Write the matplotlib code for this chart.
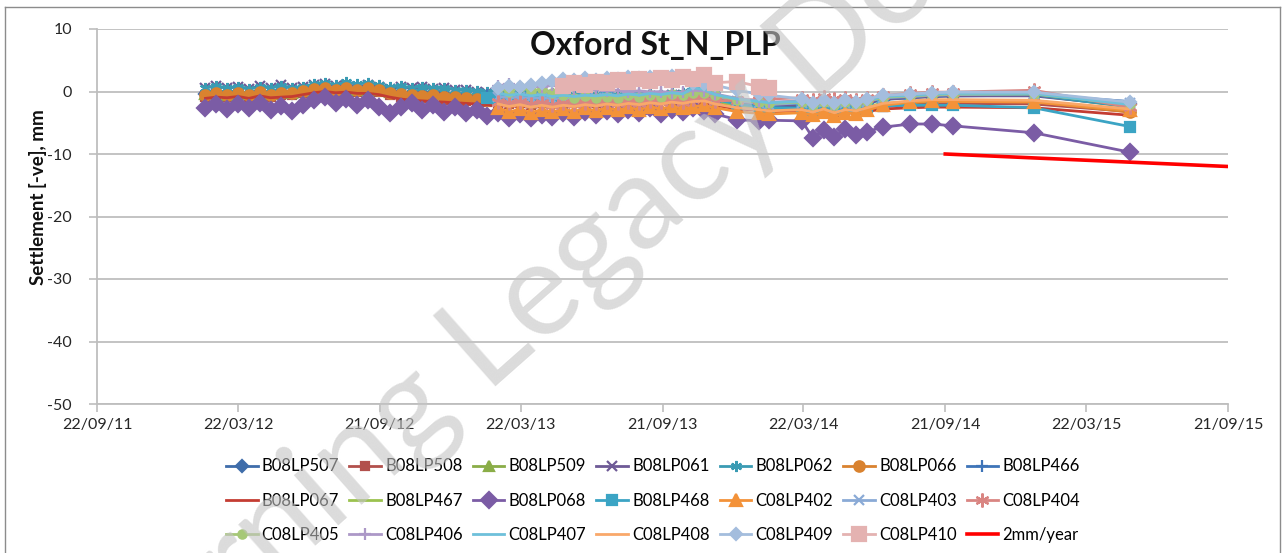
import numpy as np
import pandas as pd
import matplotlib
matplotlib.use('Agg')
import matplotlib.pyplot as plt
import matplotlib.dates as mdates
from matplotlib.lines import Line2D

plt.rcParams['font.family'] = ['Lato', 'DejaVu Sans']
plt.rcParams['axes.unicode_minus'] = False

# survey dates (B08 points from Feb 2012, newer points join in Feb 2013)
dates = pd.to_datetime([
    "2012-02-09", "2012-02-23", "2012-03-08", "2012-03-22", "2012-04-05", "2012-04-19", "2012-05-03", "2012-05-17", "2012-05-31", "2012-06-14",
    "2012-06-28", "2012-07-12", "2012-07-26", "2012-08-09", "2012-08-23", "2012-09-06", "2012-09-20", "2012-10-04", "2012-10-18", "2012-11-01",
    "2012-11-15", "2012-11-29", "2012-12-13", "2012-12-27", "2013-01-10", "2013-01-24", "2013-02-07", "2013-02-21", "2013-03-07", "2013-03-21",
    "2013-04-04", "2013-04-18", "2013-05-02", "2013-05-16", "2013-05-30", "2013-06-13", "2013-06-27", "2013-07-11", "2013-07-25", "2013-08-08",
    "2013-08-22", "2013-09-05", "2013-09-19", "2013-10-03", "2013-10-17", "2013-10-31", "2013-11-14", "2013-11-28", "2013-12-26", "2014-01-23",
    "2014-02-06", "2014-03-20", "2014-04-03", "2014-04-17", "2014-05-01", "2014-05-15", "2014-05-29", "2014-06-12", "2014-07-03", "2014-08-07",
    "2014-09-04", "2014-10-01", "2015-01-13", "2015-05-17"])
dates_4xx = dates[26:]
dates_c = dates[27:]
dates_410 = dates[33:51]

# settlement readings, mm
b08lp507 = [-0.4, -0.1, -0.5, -0.2, -0.4, 0.0, -0.4, -0.1, -0.3, 0.1,
            0.4, 0.6, 0.3, 0.6, 0.3, 0.5, 0.2, -0.1, -0.3, -0.4,
            -0.5, -0.3, -0.6, -0.5, -0.8, -0.9, -1.0, -1.1, -1.3, -1.2,
            -1.5, -1.3, -1.4, -1.2, -1.3, -1.1, -1.2, -1.0, -1.1, -0.9,
            -1.0, -0.7, -0.9, -0.8, -0.9, -0.6, -0.8, -1.2, -1.9, -2.2,
            -2.4, -2.3, -2.5, -2.2, -2.4, -2.1, -2.2, -1.9, -1.3, -1.0,
            -0.8, -0.7, -0.6, -2.0]
b08lp508 = [-0.8, -0.6, -0.9, -0.6, -0.8, -0.5, -0.8, -0.6, -0.6, -0.3,
            0.1, 0.3, 0.0, 0.3, 0.0, 0.2, -0.1, -0.5, -0.8, -1.0,
            -1.1, -1.0, -1.3, -1.3, -1.5, -1.6, -1.7, -1.8, -2.0, -1.9,
            -2.1, -1.9, -2.0, -1.8, -1.9, -1.7, -1.8, -1.6, -1.7, -1.5,
            -1.5, -1.3, -1.4, -1.4, -1.5, -1.3, -1.4, -1.8, -2.5, -2.8,
            -3.0, -3.1, -3.3, -3.1, -3.2, -3.0, -3.0, -2.8, -2.4, -2.1,
            -2.0, -1.9, -2.0, -3.2]
b08lp509 = [-0.4, -0.1, -0.5, -0.2, -0.4, 0.0, -0.4, -0.1, -0.2, 0.1,
            0.4, 0.6, 0.3, 0.6, 0.3, 0.5, 0.2, -0.1, -0.2, -0.3,
            -0.3, -0.2, -0.4, -0.3, -0.5, -0.6, -0.7, -0.8, -1.0, -0.9,
            -1.1, -1.0, -1.1, -0.9, -1.0, -0.8, -0.9, -0.7, -0.8, -0.6,
            -0.7, -0.5, -0.6, -0.5, -0.6, -0.3, -0.5, -0.9, -1.7, -2.0,
            -2.1, -2.0, -2.2, -1.9, -2.1, -1.8, -1.9, -1.6, -1.1, -0.9,
            -0.7, -0.6, -0.6, -2.4]
b08lp061 = [0.6, 0.9, 0.5, 0.8, 0.4, 0.9, 0.6, 1.0, 0.5, 0.8,
            1.0, 1.2, 0.9, 1.1, 0.8, 1.0, 0.7, 0.4, 0.7, 0.5,
            0.7, 0.4, 0.6, 0.3, 0.2, 0.0, -0.2, -0.1, -0.3, -0.2,
            -0.4, -0.5, -0.6, -0.7, -0.8, -0.7, -0.9, -0.8, -1.0, -0.9,
            -0.8, -0.7, -0.8, -0.6, -0.5, -0.4, -0.5, -0.9, -1.6, -2.0,
            -2.2, -2.1, -2.3, -2.0, -2.2, -1.9, -2.0, -1.7, -1.2, -1.0,
            -0.8, -0.7, -0.7, -2.3]
b08lp062 = [0.6, 0.9, 0.5, 0.8, 0.4, 0.7, 0.6, 0.9, 0.5, 0.8,
            1.2, 1.4, 1.1, 1.5, 1.2, 1.4, 1.1, 0.7, 0.9, 0.6,
            0.8, 0.5, 0.6, 0.3, 0.2, 0.1, 0.0, -0.1, -0.2, 0.0,
            0.0, -0.2, -0.3, -0.4, -0.5, -0.4, -0.6, -0.5, -0.7, -0.6,
            -0.5, -0.4, -0.5, -0.3, -0.2, 0.8, 0.5, -0.5, -1.4, -1.8,
            -2.0, -1.8, -2.0, -1.6, -1.9, -1.5, -1.7, -1.4, -0.9, -0.8,
            -0.6, -0.5, -0.5, -2.5]
b08lp066 = [-0.5, -0.2, -0.6, -0.3, -0.5, -0.1, -0.5, -0.2, -0.3, 0.1,
            0.4, 0.6, 0.3, 0.6, 0.3, 0.5, 0.2, -0.2, -0.4, -0.5,
            -0.7, -0.5, -0.9, -0.8, -1.1, -1.2, -1.4, -1.4, -1.7, -1.6,
            -1.9, -1.7, -1.8, -1.5, -1.7, -1.4, -1.5, -1.2, -1.4, -1.1,
            -1.2, -0.9, -1.1, -1.0, -1.2, -0.9, -1.1, -1.5, -2.3, -2.6,
            -2.8, -2.9, -3.2, -2.9, -3.1, -2.8, -2.9, -2.6, -2.1, -1.8,
            -1.6, -1.5, -1.6, -3.3]
b08lp466 = [-0.5, -0.5, -0.7, -0.6,
            -0.8, -0.7, -0.8, -0.6, -0.7, -0.5, -0.6, -0.4, -0.5, -0.3,
            -0.4, -0.2, -0.3, -0.2, -0.3, 0.0, -0.2, -0.7, -1.4, -1.8,
            -1.9, -1.8, -2.0, -1.7, -1.9, -1.5, -1.6, -1.3, -0.7, -0.6,
            -0.4, -0.3, -0.5, -1.6]
b08lp067 = [-1.1, -0.9, -1.0, -0.8, -1.1, -0.7, -1.0, -0.9, -0.8, -0.5,
            -0.2, 0.0, -0.2, -0.1, -0.3, -0.3, -0.5, -0.9, -1.2, -1.4,
            -1.5, -1.6, -1.7, -1.8, -1.9, -2.0, -2.1, -2.2, -2.3, -2.4,
            -2.4, -2.3, -2.2, -2.2, -2.1, -2.0, -2.0, -1.9, -1.8, -1.8,
            -1.7, -1.6, -1.7, -1.8, -1.7, -1.6, -1.8, -2.2, -2.8, -3.0,
            -3.2, -3.4, -3.6, -3.5, -3.6, -3.4, -3.3, -3.2, -2.8, -2.6,
            -2.5, -2.5, -2.6, -3.8]
b08lp467 = [-1.4, -1.5, -1.7, -1.6,
            -1.8, -1.6, -1.7, -1.5, -1.6, -1.4, -1.5, -1.3, -1.4, -1.2,
            -1.2, -1.0, -1.2, -1.1, -1.2, -1.0, -1.1, -1.5, -2.2, -2.5,
            -2.7, -2.7, -2.9, -2.7, -2.8, -2.6, -2.6, -2.4, -1.9, -1.7,
            -1.5, -1.4, -1.5, -3.0]
b08lp068 = [-2.6, -2.0, -2.8, -2.0, -2.6, -1.8, -2.9, -2.3, -3.1, -2.1,
            -1.4, -0.9, -1.9, -1.2, -2.1, -1.4, -2.4, -3.4, -2.4, -1.9,
            -2.9, -2.2, -3.2, -2.5, -3.5, -2.9, -3.9, -3.4, -4.2, -3.6,
            -4.3, -3.7, -4.1, -3.5, -4.0, -3.2, -3.8, -3.1, -3.6, -2.9,
            -3.4, -2.7, -3.6, -2.9, -3.3, -2.6, -3.1, -3.6, -4.5, -4.7,
            -4.6, -4.7, -7.4, -6.2, -7.3, -6.0, -7.0, -6.4, -5.7, -5.2,
            -5.2, -5.5, -6.6, -9.7]
b08lp468 = [-1.1, -1.2, -1.4, -1.3,
            -1.6, -1.4, -1.5, -1.3, -1.4, -1.2, -1.3, -1.1, -1.2, -1.0,
            -1.1, -0.8, -1.0, -0.9, -1.0, -0.4, -0.7, -1.3, -2.0, -2.4,
            -2.6, -2.7, -2.9, -2.6, -2.8, -2.5, -2.6, -2.4, -2.3, -2.2,
            -2.2, -2.2, -2.6, -5.6]
c08lp402 = [-2.6, -3.3, -2.8, -3.4, -2.9, -3.3, -2.8, -3.2, -2.7, -3.1,
            -2.6, -3.0, -2.5, -2.9, -2.4, -2.8, -2.3, -2.7, -2.4, -2.2,
            -2.6, -3.2, -3.5, -3.6, -3.4, -3.8, -3.3, -3.9, -3.4, -3.6,
            -3.0, -2.2, -1.7, -1.5, -1.6, -1.7, -3.0]
c08lp403 = [-0.8, -1.0, -0.9, -1.1, -1.0, -1.2, -1.1, -1.3, -1.2, -1.1,
            -1.0, -1.2, -0.9, -1.1, -0.8, -1.0, -0.7, -0.9, -0.5, -0.4,
            -0.8, -1.5, -1.9, -2.1, -1.8, -2.3, -1.7, -2.4, -1.8, -2.2,
            -1.6, -1.0, -0.8, -0.6, -0.5, -0.4, -1.9]
c08lp404 = [-1.6, -1.9, -1.7, -2.0, -1.8, -2.1, -1.9, -2.0, -1.8, -1.9,
            -1.7, -1.9, -1.6, -1.8, -1.5, -1.7, -1.4, -1.6, -1.2, -1.0,
            -1.5, -1.4, -1.3, -1.2, -1.0, -1.3, -0.9, -1.2, -1.0, -1.3,
            -1.1, -0.6, -0.3, -0.1, -0.1, 0.2, -2.5]
c08lp405 = [0.5, 0.0, 0.7, 0.1, 0.4, -0.3, -0.6, -1.0, -0.7, -1.1,
            -0.8, -1.0, -0.6, -0.9, -0.5, -0.8, -0.4, -0.6, -0.3, -0.2,
            -0.6, -1.3, -1.7, -1.9, -1.7, -2.1, -1.6, -2.2, -1.7, -2.0,
            -1.5, -0.9, -0.7, -0.5, -0.4, -0.4, -2.0]
c08lp406 = [0.9, 1.2, 0.8, 1.1, 0.7, 1.0, 0.6, 0.4, 0.2, 0.3,
            0.1, 0.2, 0.0, 0.1, -0.1, 0.0, -0.2, -0.1, 0.2, 0.1,
            -0.4, -1.1, -1.5, -1.7, -1.5, -1.9, -1.4, -2.0, -1.5, -1.8,
            -1.3, -0.7, -0.5, -0.3, -0.2, -0.2, -1.8]
c08lp407 = [-0.3, -0.6, -0.4, -0.7, -0.5, -0.8, -0.6, -0.8, -0.6, -0.7,
            -0.5, -0.7, -0.4, -0.6, -0.3, -0.5, -0.2, -0.4, 0.6, 0.3,
            -0.5, -1.2, -1.6, -1.8, -1.6, -2.0, -1.5, -2.1, -1.6, -1.9,
            -1.4, -0.8, -0.6, -0.4, -0.3, -0.3, -2.1]
c08lp408 = [-2.0, -2.4, -2.1, -2.5, -2.2, -2.5, -2.2, -2.4, -2.1, -2.3,
            -2.0, -2.2, -1.9, -2.1, -1.8, -2.0, -1.7, -1.9, -1.6, -1.5,
            -2.0, -2.6, -2.9, -3.1, -2.9, -3.3, -2.8, -3.4, -2.9, -3.1,
            -2.6, -1.9, -1.5, -1.3, -1.3, -1.4, -2.8]
c08lp409 = [0.6, 0.9, 0.7, 1.0, 1.3, 1.7, 2.0, 1.8, 2.1, 1.9,
            2.2, 2.0, 2.3, 2.1, 2.4, 2.2, 2.5, 2.3, 1.4, 1.2,
            1.0, 0.2, -0.4, -0.6, -1.2, -1.8, -1.3, -1.9, -1.4, -1.7,
            -1.2, -0.6, -0.4, -0.2, -0.1, -0.1, -1.7]
c08lp410 = [0.9, 1.4, 1.1, 1.6, 1.3, 1.8, 1.5, 2.0, 1.7, 2.2,
            1.9, 2.3, 2.0, 2.6, 1.4, 1.6, 0.8, 0.6]

trend_dates = pd.to_datetime(["2014-09-21", "2015-09-21"])
trend_vals = [-10, -12]

tick_dates = pd.to_datetime(["2011-09-22", "2012-03-22", "2012-09-21", "2013-03-22", "2013-09-21",
                             "2014-03-22", "2014-09-21", "2015-03-22", "2015-09-21"])

# name, x, y, colour, marker, marker size
series = [
    ("B08LP507", dates, b08lp507, "#3F6DAA", "D", 6),
    ("B08LP508", dates, b08lp508, "#B2504C", "s", 6),
    ("B08LP509", dates, b08lp509, "#8AAD47", "^", 7),
    ("B08LP061", dates, b08lp061, "#6E5A96", "x", 7),
    ("B08LP062", dates, b08lp062, "#3A9BB3", (6, 2, 0), 8),
    ("B08LP066", dates, b08lp066, "#D9822F", "o", 7.5),
    ("B08LP466", dates_4xx, b08lp466, "#3E74B8", "+", 8),
    ("B08LP067", dates, b08lp067, "#C43C32", None, 0),
    ("B08LP467", dates_4xx, b08lp467, "#9BC24E", None, 0),
    ("B08LP068", dates, b08lp068, "#7B5CA5", "D", 8.5),
    ("B08LP468", dates_4xx, b08lp468, "#3BA4C4", "s", 7),
    ("C08LP402", dates_c, c08lp402, "#F39239", "^", 8),
    ("C08LP403", dates_c, c08lp403, "#8AAAD6", "x", 7),
    ("C08LP404", dates_c, c08lp404, "#D98582", (6, 2, 0), 10),
    ("C08LP405", dates_c, c08lp405, "#A6C877", "o", 6),
    ("C08LP406", dates_c, c08lp406, "#AC98C7", "+", 8),
    ("C08LP407", dates_c, c08lp407, "#6EC0DA", None, 0),
    ("C08LP408", dates_c, c08lp408, "#F9A86A", None, 0),
    ("C08LP409", dates_c, c08lp409, "#A4BDDD", "D", 6),
    ("C08LP410", dates_410, c08lp410, "#E4B2B1", "s", 10),
    ("2mm/year", trend_dates, trend_vals, "#FF0000", None, 0),
]

fig = plt.figure(figsize=(12.88, 5.53), dpi=100)
ax = fig.add_axes([97/1288, 1-404/553, 1131/1288, 375/553])

handles = []
for name, x, y, col, mk, ms in series:
    lw = 2.6 if name == "2mm/year" else 2.0
    h, = ax.plot(x, y, color=col, lw=lw, marker=mk, ms=ms, mfc=col, mec=col,
                 mew=1.6, label=name)
    handles.append(h)

ax.set_xlim(tick_dates[0], tick_dates[-1])
ax.set_xticks(tick_dates)
ax.xaxis.set_major_formatter(mdates.DateFormatter('%d/%m/%y'))
ax.set_ylim(-50, 10)
ax.set_yticks(np.arange(-50, 11, 10))
ax.grid(axis='y', color='#BEBEBE', lw=1.3)
ax.set_axisbelow(True)
for s in ['top', 'right']:
    ax.spines[s].set_visible(False)
for s in ['left', 'bottom']:
    ax.spines[s].set_color('#BEBEBE')
    ax.spines[s].set_linewidth(1.3)
ax.tick_params(axis='both', colors='#BEBEBE', labelcolor='#262626', length=6,
               width=1.2, labelsize=11.5)
ax.tick_params(axis='y', pad=12)
ax.tick_params(axis='x', pad=4)

fig.text(655/1288, 1-45/553, 'Oxford St_N_PLP', ha='center', va='center',
         fontsize=23, fontweight='bold', color='#111111')
fig.text(38/1288, 1-197/553, 'Settlement [-ve], mm', ha='center', va='center',
         rotation=90, fontsize=13.5, fontweight='bold', color='#111111')

# Excel fills the legend row by row
order = [r*7 + c for c in range(7) for r in range(3)]
fig.legend([handles[i] for i in order], [series[i][0] for i in order],
           ncol=7, loc='upper center', bbox_to_anchor=(653/1288, 1-450/553),
           frameon=False, fontsize=12, handlelength=1.9, handletextpad=0.25,
           columnspacing=0.6, labelspacing=1.1, numpoints=1, borderpad=0)

# chart area border
for xs, ys in [([5, 5], [7, 553]), ([5, 1280], [7, 7]), ([1280, 1280], [7, 553])]:
    fig.add_artist(Line2D([v/1288 for v in xs], [1-v/553 for v in ys],
                          transform=fig.transFigure, color='#8C8C8C', lw=1))

fig.text(656/1288, 1-196/553, 'Learning Legacy Document', ha='center', va='center',
         rotation=41.5, rotation_mode='anchor', fontsize=95, color='#C4C4C4',
         alpha=0.6, zorder=10)

fig.savefig('out.png', dpi=100)
